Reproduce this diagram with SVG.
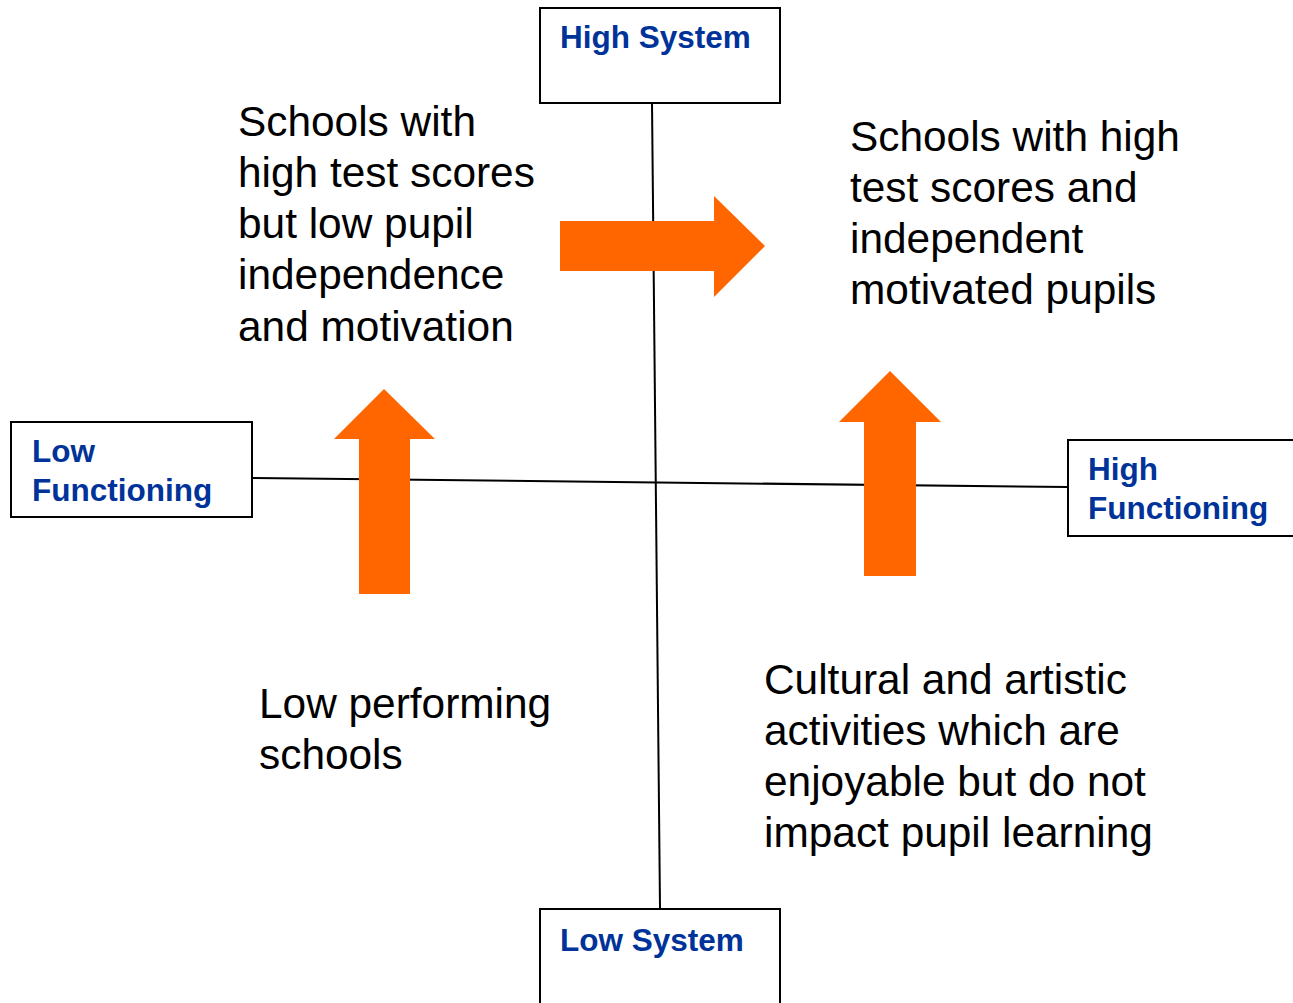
<svg xmlns="http://www.w3.org/2000/svg" width="1293" height="1003" viewBox="0 0 1293 1003">
<style>
.box{fill:#fff;stroke:#000;stroke-width:2}
.lbl{font-family:"Liberation Sans",Arial,sans-serif;font-weight:bold;font-size:31.5px;fill:#003399}
.txt{font-family:"Liberation Sans",Arial,sans-serif;font-size:42.4px;fill:#000}
.axis{stroke:#000;stroke-width:2;fill:none}
.arr{fill:#FF6600}
</style>
<rect width="1293" height="1003" fill="#fff"/>
<g id="connectors">
<line class="axis" x1="652" y1="103" x2="660" y2="908"/>
<line class="axis" x1="252" y1="478" x2="1068" y2="487"/>
</g>
<g id="high-system">
<rect class="box" x="540" y="8" width="240" height="95"/>
<text class="lbl" x="560" y="48">High System</text>
</g>
<g id="low-system">
<rect class="box" x="540" y="909" width="240" height="110"/>
<text class="lbl" x="560" y="951">Low System</text>
</g>
<g id="low-functioning">
<rect class="box" x="11" y="422" width="241" height="95"/>
<text class="lbl" x="32" y="462">Low</text>
<text class="lbl" x="32" y="501">Functioning</text>
</g>
<g id="high-functioning">
<rect class="box" x="1068" y="440" width="240" height="96"/>
<text class="lbl" x="1088" y="480">High</text>
<text class="lbl" x="1088" y="519">Functioning</text>
</g>
<g id="arrow-right">
<polygon class="arr" points="560,221 714,221 714,196 765,246 714,297 714,271 560,271"/>
</g>
<g id="arrow-up-left">
<polygon class="arr" points="359,594 359,439 334,439 384,389 435,439 410,439 410,594"/>
</g>
<g id="arrow-up-right">
<polygon class="arr" points="864,576 864,422 839,422 890,371 941,422 916,422 916,576"/>
</g>
<g id="quad-top-left">
<text class="txt" x="238" y="136">Schools with</text>
<text class="txt" x="238" y="187">high test scores</text>
<text class="txt" x="238" y="238">but low pupil</text>
<text class="txt" x="238" y="289">independence</text>
<text class="txt" x="238" y="341">and motivation</text>
</g>
<g id="quad-top-right">
<text class="txt" x="850" y="151">Schools with high</text>
<text class="txt" x="850" y="202">test scores and</text>
<text class="txt" x="850" y="253">independent</text>
<text class="txt" x="850" y="304">motivated pupils</text>
</g>
<g id="quad-bottom-left">
<text class="txt" x="259" y="718">Low performing</text>
<text class="txt" x="259" y="769">schools</text>
</g>
<g id="quad-bottom-right">
<text class="txt" x="764" y="694">Cultural and artistic</text>
<text class="txt" x="764" y="745">activities which are</text>
<text class="txt" x="764" y="796">enjoyable but do not</text>
<text class="txt" x="764" y="847">impact pupil learning</text>
</g>
</svg>
